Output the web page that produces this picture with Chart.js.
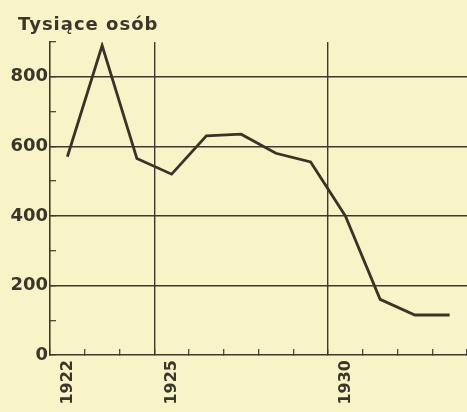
<!DOCTYPE html>
<html>
<head>
<meta charset="utf-8">
<script src="https://cdn.jsdelivr.net/npm/chart.js@4.4.1/dist/chart.umd.min.js"></script>
<style>
  html, body { margin: 0; padding: 0; background: #f9f4c8; }
  #wrap { width: 467px; height: 412px; position: relative; }
  canvas { display: block; }
</style>
</head>
<body>
<div id="wrap"><canvas id="c" width="467" height="412"></canvas></div>
<script>
// ---- data ----
const years = ['1922','1923','1924','1925','1926','1927','1928','1929','1930','1931','1932','1933'];
const shownYears = ['1922','1925','1930'];
const gridYears = ['1925','1930'];
const persons = [570, 890, 565, 520, 630, 635, 580, 555, 400, 160, 115, 115];
const yLabelValues = [0, 200, 400, 600, 800];
const yGridValues = [200, 400, 600, 800];
const yTitle = 'Tysiące osób';

const ink = '#3d392d';
const textInk = '#3a362b';
const fontFamily = '"DejaVu Sans", sans-serif';

const titlePlugin = {
  id: 'topTitle',
  afterDraw(chart) {
    const ctx = chart.ctx;
    ctx.save();
    ctx.fillStyle = textInk;
    ctx.font = 'bold 18px ' + fontFamily;
    if ('letterSpacing' in ctx) ctx.letterSpacing = '1px';
    ctx.textAlign = 'left';
    ctx.textBaseline = 'alphabetic';
    ctx.fillText(yTitle, 18, 30);
    ctx.restore();
  }
};

new Chart(document.getElementById('c'), {
  type: 'line',
  data: {
    labels: years,
    datasets: [{
      data: persons,
      borderColor: '#3a3327',
      borderWidth: 2.8,
      pointRadius: 0,
      tension: 0,
      fill: false
    }]
  },
  options: {
    responsive: false,
    animation: false,
    devicePixelRatio: 1,
    layout: { padding: { top: 42, left: 0, right: 0, bottom: 0 } },
    plugins: {
      legend: { display: false },
      tooltip: { enabled: false },
      title: { display: false }
    },
    scales: {
      x: {
        type: 'category',
        offset: true,
        afterFit(scale) { scale.height = 57; scale.paddingLeft = 0; scale.paddingRight = 0; },
        grid: {
          offset: true,
          color: (c) => gridYears.includes(years[c.index]) ? ink : 'transparent',
          lineWidth: 1.4,
          drawTicks: true,
          tickLength: -6,
          tickColor: ink,
          tickWidth: 1.2
        },
        border: { display: true, color: ink, width: 1.6 },
        ticks: {
          autoSkip: false,
          maxRotation: 90,
          minRotation: 90,
          padding: 11,
          color: textInk,
          font: { family: fontFamily, size: 16, weight: 'bold' },
          callback: (v, i) => shownYears.includes(years[i]) ? years[i] : ''
        }
      },
      y: {
        min: 0,
        max: 900,
        afterFit(scale) { scale.width = 50; },
        grid: {
          color: (c) => (c.tick && yGridValues.includes(c.tick.value)) ? ink : 'transparent',
          lineWidth: 1.4,
          drawTicks: true,
          tickLength: -6,
          tickColor: ink,
          tickWidth: 1.2
        },
        border: { display: true, color: ink, width: 1.6 },
        ticks: {
          stepSize: 100,
          padding: 8,
          color: textInk,
          font: { family: fontFamily, size: 18, weight: 'bold' },
          callback: (v) => yLabelValues.includes(v) ? String(v) : ''
        }
      }
    }
  },
  plugins: [titlePlugin]
});
</script>
</body>
</html>
